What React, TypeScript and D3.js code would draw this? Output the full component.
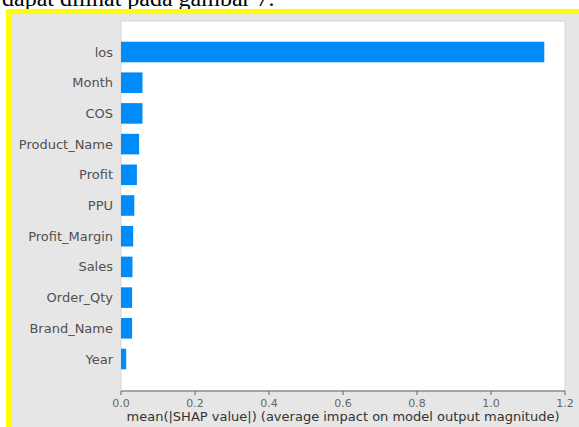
import React from "react";
import * as d3 from "d3";

const features = ["los", "Month", "COS", "Product_Name", "Profit", "PPU", "Profit_Margin", "Sales", "Order_Qty", "Brand_Name", "Year"];
const values = [1.144, 0.058, 0.058, 0.049, 0.043, 0.036, 0.033, 0.031, 0.030, 0.030, 0.014];
const xTicks = [0, 0.2, 0.4, 0.6, 0.8, 1.0, 1.2];
const captionText = "dapat dilihat pada gambar 7.";
const xLabel = "mean(|SHAP value|) (average impact on model output magnitude)";

const W = 579;
const H = 427;
const plotL = 121;
const plotR = 565;
const plotT = 21;
const plotB = 391;

export default function App() {
  const x = d3.scaleLinear().domain([0, 1.2]).range([plotL, plotR]);
  const y = d3
    .scaleBand<string>()
    .domain(features)
    .range([36.65, 374.35])
    .paddingInner(0.33)
    .paddingOuter(0.165);
  const font = "'DejaVu Sans', sans-serif";
  return (
    <svg
      width={W}
      height={H}
      style={{ position: "absolute", left: 0, top: 0, display: "block" }}
    >
      <rect x={0} y={0} width={W} height={H} fill="#ffffff" />
      <text x={2} y={6} fontFamily="'Liberation Serif', 'Times New Roman', serif" fontSize={24} fill="#000">
        {captionText}
      </text>
      <rect x={6} y={9} width={W - 6} height={H - 9} fill="#ffff00" />
      <rect x={11} y={14} width={W - 11} height={H - 14} fill="#e6e6e6" />
      <rect x={plotL} y={plotT} width={plotR - plotL} height={plotB - plotT} fill="#ffffff" stroke="#d6d6d6" strokeWidth={1} />
      {features.map((f, i) => (
        <g key={f}>
          <rect
            x={x(0)}
            y={y(f)!}
            width={x(values[i]) - x(0)}
            height={y.bandwidth()}
            fill="#008bfb"
          />
          <text
            x={113}
            y={y(f)! + y.bandwidth() / 2}
            textAnchor="end"
            dominantBaseline="central"
            fontFamily={font}
            fontSize={13}
            fill="#505050"
          >
            {f}
          </text>
        </g>
      ))}
      <line x1={plotL} x2={plotR} y1={plotB} y2={plotB} stroke="#666" strokeWidth={1} />
      {xTicks.map((t) => (
        <g key={t}>
          <line x1={x(t)} x2={x(t)} y1={plotB} y2={plotB + 4} stroke="#666" strokeWidth={1} />
          <text
            x={x(t)}
            y={403}
            textAnchor="middle"
            dominantBaseline="central"
            fontFamily={font}
            fontSize={11}
            fill="#666"
          >
            {t.toFixed(1)}
          </text>
        </g>
      ))}
      <text
        x={343}
        y={416}
        textAnchor="middle"
        dominantBaseline="central"
        fontFamily={font}
        fontSize={13}
        fill="#333"
      >
        {xLabel}
      </text>
    </svg>
  );
}
